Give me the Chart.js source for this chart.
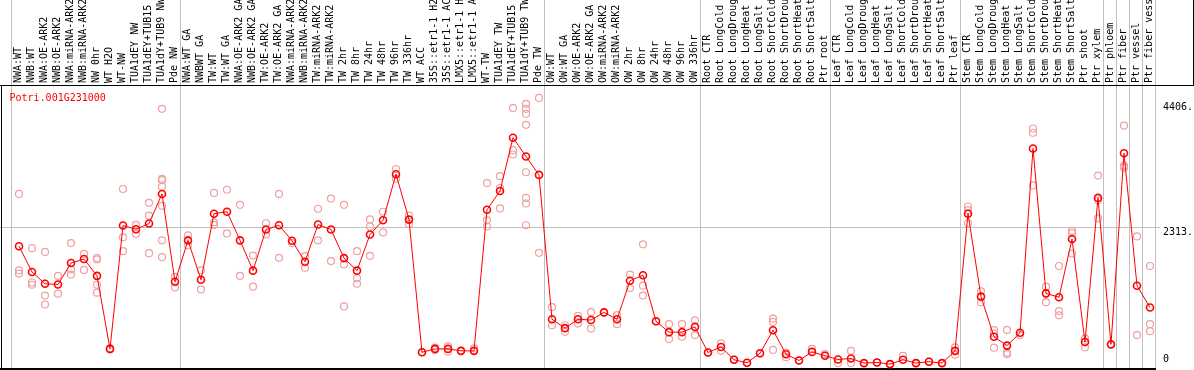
<!DOCTYPE html>
<html><head><meta charset="utf-8">
<script src="https://cdn.jsdelivr.net/npm/chart.js@4.4.1/dist/chart.umd.min.js"></script>
<style>html,body{margin:0;padding:0;background:#fff;overflow:hidden}canvas{display:block}</style>
</head><body>
<canvas id="c" width="1194" height="370"></canvas>
<script>
const title = 'Potri.001G231000';

const categories = [
  'NWA:WT','NWB:WT','NWA:OE-ARK2','NWB:OE-ARK2','NWA:miRNA-ARK2','NWB:miRNA-ARK2','NW 0hr','WT H2O','WT-NW',
  'TUA1dEY NW','TUA1dEY+TUB15 NW','TUA1dY+TUB9 NW','Pde NW',
  'NWA:WT GA','NWBWT GA','TW:WT','TW:WT GA','NWA:OE-ARK2 GA','NWB:OE-ARK2 GA','TW:OE-ARK2','TW:OE-ARK2 GA',
  'NWA:miRNA-ARK2 GA','NWB:miRNA-ARK2 GA','TW:miRNA-ARK2','TW:miRNA-ARK2 GA',
  'TW 2hr','TW 8hr','TW 24hr','TW 48hr','TW 96hr','TW 336hr',
  'WT ACC','35S::etr1-1 H2O','35S::etr1-1 ACC','LMX5::etr1-1 H2O','LMX5::etr1-1 ACC',
  'WT-TW','TUA1dEY TW','TUA1dEY+TUB15 TW','TUA1dY+TUB9 TW','Pde TW',
  'OW:WT','OW:WT GA','OW:OE-ARK2','OW:OE-ARK2 GA','OW:miRNA-ARK2','OW:miRNA-ARK2 GA',
  'OW 2hr','OW 8hr','OW 24hr','OW 48hr','OW 96hr','OW 336hr',
  'Root CTR','Root LongCold','Root LongDrought','Root LongHeat','Root LongSalt',
  'Root ShortCold','Root ShortDrought','Root ShortHeat','Root ShortSalt','Ptr root',
  'Leaf CTR','Leaf LongCold','Leaf LongDrought','Leaf LongHeat','Leaf LongSalt',
  'Leaf ShortCold','Leaf ShortDrought','Leaf ShortHeat','Leaf ShortSalt','Ptr leaf',
  'Stem CTR','Stem LongCold','Stem LongDrought','Stem LongHeat','Stem LongSalt',
  'Stem ShortCold','Stem ShortDrought','Stem ShortHeat','Stem ShortSalt','Ptr shoot',
  'Ptr xylem','Ptr phloem','Ptr fiber','Ptr vessel','Ptr fiber vessel'
];

const meanValues = [
  1982,1551,1353,1341,1700,1767,1485,260,2329,2268,2363,2859,1386,
  2081,1419,2528,2561,2081,1573,2263,2334,2074,1722,2346,2263,
  1783,1573,2180,2417,3190,2429,
  204,260,260,227,227,
  2594,2909,3803,3488,3179,
  757,608,757,745,872,757,1402,1495,723,541,541,629,
  199,293,78,28,187,574,171,66,210,144,
  83,99,22,33,5,78,22,45,22,227,
  2528,1137,464,315,530,3621,1192,1126,2103,376,
  2793,336,3543,1320,955
];

const replicateValues = [
  [2859,1578,1523],[1949,1374,1336],[1887,1154,1005],[1485,1187],[2036,1594,1507],[1854,1584],
  [1783,1760,1336,1204],[250,270],[2942,2131,1899],[2339,2190],[2710,2495,1866],
  [4288,3113,3091,2980,2660,2081,1800],[1469,1291],
  [2164,1998],[1578,1258],[2876,2384,2339],[2930,2197],[2677,1485],[1826,1303],[2368,2180],[2859,1788],
  [2036],[1816,1622],[2611,2081],[2781,1733],
  [2677,1677,972],[1899,1445,1353],[2434,2313,1821],[2561,2214],[3278,3113],[2495,2356],
  [204],[281,243],[303,215],[227],[270],
  [3041,2417,2313],[3157,2959,2616],[4300,3593,3521],[4371,4288,4205,4018,3223,2793,2699,2334],[4470,1871],
  [960,657],[657,546],[816,684],[877,601],[872],[828,674],[1507,1280],[2015,1320,1154],[723],[674,425],[674,464],[740,492],
  [199],[353,227],[78],[28],[187],[767,712,243],[199,121],[66],[260],[171],
  [22],[227,22],[22],[33],[5],[144],[22],[45],[22],[286,161],
  [2649,2588,2368],[1225,1043],[574,518,281],[579,199,171],[492],[3957,3886,3002],[1303,1043],[1651,894,823],[2240,2202,1859],[435,286],
  [3167,2753,2450],[336],[4007,3333,3300],[2147,492],[1651,674,558]
];

const yTickValues = [0, 2313, 4406];
const yTickLabels = ['0', '2313.', '4406.'];
const groupBreaks = [0, 13, 41, 53, 63, 73, 84, 85, 86, 87, 88];
const yMax = 4603;

const replicatePoints = replicateValues.flatMap((arr, i) => arr.map(v => ({x: categories[i], y: v})));

const FONT = '10px "DejaVu Sans Mono", "Liberation Mono", monospace';

const decor = {
  id: 'decor',
  beforeDraw(chart) {
    const ctx = chart.ctx;
    ctx.save();
    ctx.fillStyle = '#ffffff';
    ctx.fillRect(0, 0, chart.width, chart.height);
    ctx.restore();
  },
  beforeDatasetsDraw(chart) {
    const ctx = chart.ctx;
    const xs = chart.scales.x, ys = chart.scales.y;
    const x0 = xs.getPixelForValue(0);
    const step = xs.getPixelForValue(1) - x0;
    ctx.save();
    ctx.fillStyle = '#c0c0c0';
    groupBreaks.forEach(n => {
      const x = Math.round(x0 + (n - 1) * step + 0.36 * step);
      ctx.fillRect(x, 0, 1, chart.height);
    });
    const yg = Math.round(ys.getPixelForValue(yTickValues[1]));
    ctx.fillRect(0, yg, 1160, 1);
    ctx.fillStyle = '#000000';
    ctx.fillRect(0, 85, chart.width, 1);
    ctx.fillRect(1193, 0, 1, 86);
    ctx.fillRect(1, 86, 1, chart.height - 86);
    ctx.fillRect(0, 368, 1156, 2);
    ctx.restore();
  },
  afterDatasetsDraw(chart) {
    const ctx = chart.ctx;
    const xs = chart.scales.x, ys = chart.scales.y;
    ctx.save();
    ctx.font = FONT;
    ctx.fillStyle = '#000000';
    ctx.textBaseline = 'alphabetic';
    ctx.textAlign = 'left';
    categories.forEach((lab, i) => {
      const x = xs.getPixelForValue(i);
      ctx.save();
      ctx.translate(Math.round(x) + 1.5, 83);
      ctx.rotate(-Math.PI / 2);
      ctx.fillText(lab, 0, 0);
      ctx.restore();
    });
    yTickValues.forEach((v, i) => {
      const y = ys.getPixelForValue(v);
      const by = v === 0 ? y - 2.5 : y + 8.5;
      ctx.fillText(yTickLabels[i], 1163, by);
    });
    ctx.fillStyle = '#ff0000';
    ctx.fillText(title, 9.5, 100.5);
    ctx.restore();
  }
};

new Chart(document.getElementById('c'), {
  type: 'line',
  data: {
    labels: categories,
    datasets: [
      {
        data: meanValues,
        borderColor: '#ff0000',
        borderWidth: 1,
        tension: 0,
        pointRadius: 3.5,
        pointBorderWidth: 1.6,
        pointBorderColor: '#ff0000',
        pointBackgroundColor: 'rgba(0,0,0,0)',
        clip: false
      },
      {
        data: replicatePoints,
        showLine: false,
        pointRadius: 3.5,
        pointBorderWidth: 1.2,
        pointBorderColor: '#f0a0a0',
        pointBackgroundColor: 'rgba(0,0,0,0)',
        clip: false
      }
    ]
  },
  options: {
    responsive: false,
    animation: false,
    devicePixelRatio: 1,
    events: [],
    layout: { padding: { left: 19, right: 44, top: 90, bottom: 2 } },
    scales: {
      x: { type: 'category', display: false, offset: false },
      y: { type: 'linear', display: false, min: 0, max: yMax }
    },
    plugins: { legend: { display: false }, tooltip: { enabled: false }, title: { display: false } }
  },
  plugins: [decor]
});
</script>
</body></html>
